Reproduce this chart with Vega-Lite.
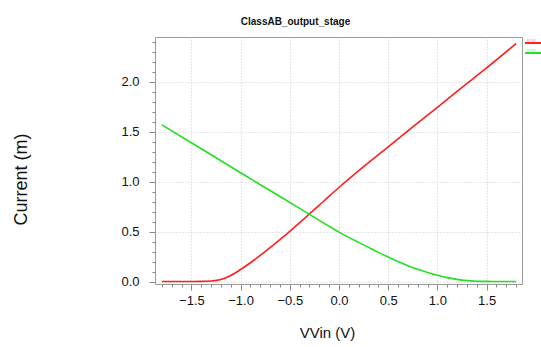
{
  "$schema": "https://vega.github.io/schema/vega-lite/v6.json",
  "autosize": "none",
  "width": 367,
  "height": 247,
  "padding": {"left": 155, "top": 37, "right": 19, "bottom": 63},
  "background": "white",
  "title": {
    "text": "ClassAB_output_stage",
    "font": "Liberation Sans",
    "fontSize": 10,
    "fontWeight": "bold",
    "color": "#111",
    "anchor": "middle",
    "dx": -43,
    "offset": 10
  },
  "config": {
    "view": {"stroke": "#9a9a9a", "strokeWidth": 1},
    "axis": {
      "labelFont": "Liberation Sans",
      "titleFont": "Liberation Sans",
      "labelColor": "#111",
      "titleColor": "#111",
      "titleFontWeight": "normal",
      "domain": false,
      "tickColor": "#888",
      "gridColor": "#cccccc",
      "gridDash": [1, 2]
    }
  },
  "datasets": {
    "curves": [
      {"v": -1.8, "i": 0.0, "s": "I(Q1)"},
      {"v": -1.6, "i": 0.0, "s": "I(Q1)"},
      {"v": -1.4, "i": 0.001, "s": "I(Q1)"},
      {"v": -1.3, "i": 0.005, "s": "I(Q1)"},
      {"v": -1.2, "i": 0.02, "s": "I(Q1)"},
      {"v": -1.1, "i": 0.06, "s": "I(Q1)"},
      {"v": -1.0, "i": 0.12, "s": "I(Q1)"},
      {"v": -0.9, "i": 0.188, "s": "I(Q1)"},
      {"v": -0.8, "i": 0.262, "s": "I(Q1)"},
      {"v": -0.7, "i": 0.34, "s": "I(Q1)"},
      {"v": -0.6, "i": 0.42, "s": "I(Q1)"},
      {"v": -0.5, "i": 0.502, "s": "I(Q1)"},
      {"v": -0.4, "i": 0.59, "s": "I(Q1)"},
      {"v": -0.3, "i": 0.677, "s": "I(Q1)"},
      {"v": -0.2, "i": 0.765, "s": "I(Q1)"},
      {"v": -0.1, "i": 0.855, "s": "I(Q1)"},
      {"v": 0.0, "i": 0.942, "s": "I(Q1)"},
      {"v": 0.25, "i": 1.15, "s": "I(Q1)"},
      {"v": 0.5, "i": 1.35, "s": "I(Q1)"},
      {"v": 0.75, "i": 1.55, "s": "I(Q1)"},
      {"v": 1.0, "i": 1.745, "s": "I(Q1)"},
      {"v": 1.25, "i": 1.945, "s": "I(Q1)"},
      {"v": 1.5, "i": 2.14, "s": "I(Q1)"},
      {"v": 1.8, "i": 2.385, "s": "I(Q1)"},
      {"v": -1.8, "i": 1.57, "s": "I(Q2)"},
      {"v": -1.5, "i": 1.39, "s": "I(Q2)"},
      {"v": -1.2, "i": 1.21, "s": "I(Q2)"},
      {"v": -1.0, "i": 1.09, "s": "I(Q2)"},
      {"v": -0.8, "i": 0.97, "s": "I(Q2)"},
      {"v": -0.6, "i": 0.852, "s": "I(Q2)"},
      {"v": -0.4, "i": 0.733, "s": "I(Q2)"},
      {"v": -0.3, "i": 0.673, "s": "I(Q2)"},
      {"v": -0.2, "i": 0.613, "s": "I(Q2)"},
      {"v": -0.1, "i": 0.553, "s": "I(Q2)"},
      {"v": 0.0, "i": 0.495, "s": "I(Q2)"},
      {"v": 0.1, "i": 0.442, "s": "I(Q2)"},
      {"v": 0.2, "i": 0.392, "s": "I(Q2)"},
      {"v": 0.3, "i": 0.342, "s": "I(Q2)"},
      {"v": 0.4, "i": 0.292, "s": "I(Q2)"},
      {"v": 0.5, "i": 0.245, "s": "I(Q2)"},
      {"v": 0.6, "i": 0.2, "s": "I(Q2)"},
      {"v": 0.7, "i": 0.159, "s": "I(Q2)"},
      {"v": 0.8, "i": 0.122, "s": "I(Q2)"},
      {"v": 0.9, "i": 0.09, "s": "I(Q2)"},
      {"v": 1.0, "i": 0.062, "s": "I(Q2)"},
      {"v": 1.1, "i": 0.039, "s": "I(Q2)"},
      {"v": 1.2, "i": 0.021, "s": "I(Q2)"},
      {"v": 1.3, "i": 0.009, "s": "I(Q2)"},
      {"v": 1.4, "i": 0.003, "s": "I(Q2)"},
      {"v": 1.5, "i": 0.001, "s": "I(Q2)"},
      {"v": 1.8, "i": 0.0, "s": "I(Q2)"}
    ]
  },
  "data": {"name": "curves"},
  "mark": {"type": "line", "strokeWidth": 1.6, "interpolate": "monotone"},
  "encoding": {
    "x": {
      "field": "v",
      "type": "quantitative",
      "scale": {"domain": [-1.87, 1.86], "nice": false, "zero": false},
      "axis": {
        "title": "VVin (V)",
        "titleFontSize": 15,
        "titleX": 172,
        "titleY": 53,
        "titleBaseline": "alphabetic",
        "titleAnchor": null,
        "values": [-1.8, -1.7, -1.6, -1.5, -1.4, -1.3, -1.2, -1.1, -1.0, -0.9, -0.8, -0.7, -0.6, -0.5, -0.4, -0.3, -0.2, -0.1, 0.0, 0.1, 0.2, 0.3, 0.4, 0.5, 0.6, 0.7, 0.8, 0.9, 1.0, 1.1, 1.2, 1.3, 1.4, 1.5, 1.6, 1.7, 1.8],
        "labelExpr": "abs(datum.value*2 - round(datum.value*2)) < 0.01 ? format(datum.value, '.1f') : ''",
        "labelFontSize": 13,
        "labelPadding": 4,
        "tickSize": {"condition": {"test": "abs(datum.value*2 - round(datum.value*2)) < 0.01", "value": 6}, "value": 3},
        "gridOpacity": {"condition": {"test": "abs(datum.value*2 - round(datum.value*2)) < 0.01", "value": 1}, "value": 0}
      }
    },
    "y": {
      "field": "i",
      "type": "quantitative",
      "scale": {"domain": [-0.025, 2.45], "nice": false, "zero": false},
      "axis": {
        "title": "Current (m)",
        "titleFontSize": 18,
        "titleX": -129,
        "titleY": 142,
        "titleBaseline": "alphabetic",
        "titleAnchor": null,
        "values": [0.0, 0.1, 0.2, 0.3, 0.4, 0.5, 0.6, 0.7, 0.8, 0.9, 1.0, 1.1, 1.2, 1.3, 1.4, 1.5, 1.6, 1.7, 1.8, 1.9, 2.0, 2.1, 2.2, 2.3, 2.4],
        "labelExpr": "abs(datum.value*2 - round(datum.value*2)) < 0.01 ? format(datum.value, '.1f') : ''",
        "labelFontSize": 13,
        "labelPadding": 10,
        "tickSize": {"condition": {"test": "abs(datum.value*2 - round(datum.value*2)) < 0.01", "value": 6}, "value": 3},
        "gridOpacity": {"condition": {"test": "abs(datum.value*2 - round(datum.value*2)) < 0.01", "value": 1}, "value": 0}
      }
    },
    "color": {
      "field": "s",
      "type": "nominal",
      "scale": {"domain": ["I(Q1)", "I(Q2)"], "range": ["#ff1f1f", "#22e022"]},
      "legend": {
        "orient": "none",
        "legendX": 375,
        "legendY": 3,
        "title": null,
        "symbolType": "M-4,0H4",
        "symbolStrokeWidth": 2,
        "symbolSize": 16,
        "labelFontSize": 4,
        "labelOffset": -9,
        "labelBaseline": "bottom",
        "labelColor": {"expr": "datum.value == 'I(Q1)' ? '#ff6666' : '#66e066'"},
        "rowPadding": 2,
        "padding": 0
      }
    }
  }
}
